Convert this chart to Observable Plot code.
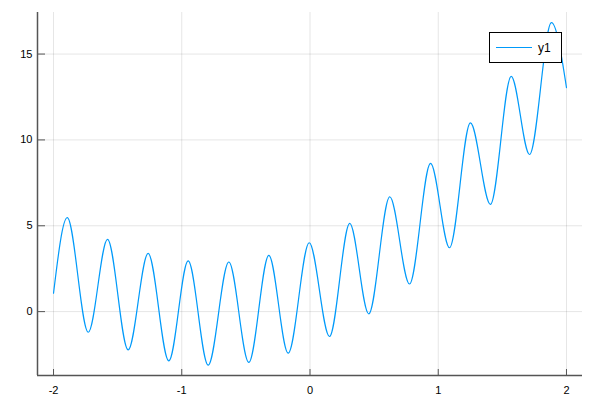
<!DOCTYPE html>
<html><head><meta charset="utf-8">
<script src="https://cdn.jsdelivr.net/npm/d3@7"></script>
<script src="https://cdn.jsdelivr.net/npm/@observablehq/plot@0.6"></script>
<style>
body{margin:0;background:#fff;}
#chart{width:600px;height:400px;}
</style>
</head><body><div id="chart"></div>
<script>
// Points (start, alternating peaks/troughs, end)
const xValues = [-2.000, -1.893, -1.729, -1.579, -1.418, -1.262, -1.101, -0.950, -0.794, -0.633, -0.477, -0.321, -0.170, -0.006, 0.152, 0.310, 0.458, 0.622, 0.776, 0.940, 1.088, 1.251, 1.407, 1.569, 1.712, 1.883, 2.000];
const yValues = [1.07, 5.47, -1.20, 4.21, -2.23, 3.39, -2.87, 2.95, -3.12, 2.89, -2.96, 3.28, -2.42, 4.01, -1.45, 5.14, -0.13, 6.69, 1.61, 8.63, 3.72, 10.99, 6.24, 13.70, 9.15, 16.83, 13.05];
const xTicks = [-2, -1, 0, 1, 2];
const yTicks = [0, 5, 10, 15];
const seriesName = "y1";

const data = xValues.map((x, i) => ({x, y: yValues[i]}));
const xDomain = [-2.125, 2.125];
const yDomain = [-3.72, 17.42];
const W = 600, H = 400, mL = 37, mR = 18, mT = 12, mB = 25;
const innerW = W - mL - mR, innerH = H - mT - mB;
const axisColor = "#555";
const lineColor = "#009AFA";

const chart = Plot.plot({
  width: W, height: H,
  marginLeft: mL, marginRight: mR, marginTop: mT, marginBottom: mB,
  style: {fontFamily: "'Liberation Sans', Arial, sans-serif", fontSize: "11px", color: "#000", background: "#fff"},
  x: {domain: xDomain},
  y: {domain: yDomain},
  marks: [
    Plot.gridX(xTicks, {stroke: "#000", strokeOpacity: 0.1}),
    Plot.gridY(yTicks, {stroke: "#000", strokeOpacity: 0.1}),
    Plot.axisX(xTicks, {tickSize: 0, tickPadding: 11, tickFormat: d => String(d), label: null, fill: "#000"}),
    Plot.axisY(yTicks, {tickSize: 0, tickPadding: 5, tickFormat: d => String(d), label: null, fill: "#000"}),
    Plot.tickX(xTicks, {x: d => d, insetTop: innerH - 6, stroke: axisColor, strokeWidth: 1}),
    Plot.tickY(yTicks, {y: d => d, insetRight: innerW - 8, stroke: axisColor, strokeWidth: 1}),
    Plot.ruleX([xDomain[0]], {stroke: axisColor, strokeWidth: 1.5}),
    Plot.ruleY([yDomain[0]], {stroke: axisColor, strokeWidth: 1.5}),
    Plot.line(data, {x: "x", y: "y", stroke: lineColor, strokeWidth: 1.2, curve: "monotone-x"})
  ]
});
document.getElementById("chart").appendChild(chart);

// Legend box (drawn on top of the curve, as in the reference)
const svg = d3.select(chart);
const lg = svg.append("g");
lg.append("rect").attr("x", 489.5).attr("y", 32.5).attr("width", 72).attr("height", 30)
  .style("fill", "#fff").style("stroke", "#000").style("stroke-width", "1px");
lg.append("line").attr("x1", 496).attr("x2", 532).attr("y1", 47.5).attr("y2", 47.5)
  .style("stroke", lineColor).style("stroke-width", "1.2px");
lg.append("text").attr("x", 538).attr("y", 52).attr("text-anchor", "start")
  .style("text-anchor", "start")
  .style("font-size", "12px").style("font-family", "'Liberation Sans', Arial, sans-serif")
  .style("fill", "#000").text(seriesName);
</script>
</body></html>
